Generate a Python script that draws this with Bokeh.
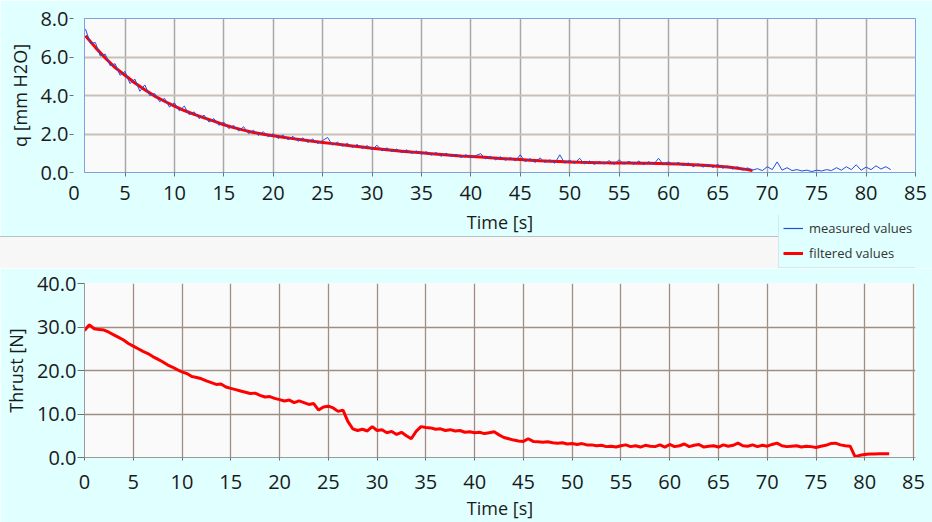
from bokeh.plotting import figure
from bokeh.layouts import column
from bokeh.models import (Range1d, NumeralTickFormatter, FixedTicker, Legend, LegendItem, Div)
from bokeh.embed import file_html
from bokeh.resources import INLINE

# ---------------- data ----------------
# dynamic pressure q [mm H2O], measured every 0.5 s starting at t = 1.0 s
q_start, q_step = 1.0, 0.5
q_measured = [
    7.45, 6.70, 6.75, 6.05, 6.15, 5.55, 5.65, 5.05, 5.25, 4.62,
    4.85, 4.22, 4.55, 4.00, 4.10, 3.68, 3.85, 3.40, 3.62, 3.20,
    3.45, 3.00, 3.15, 2.80, 2.98, 2.62, 2.80, 2.45, 2.62, 2.28,
    2.45, 2.15, 2.38, 2.02, 2.20, 1.92, 2.12, 1.85, 2.02, 1.76,
    1.95, 1.70, 1.88, 1.62, 1.80, 1.56, 1.74, 1.50, 1.66, 1.82,
    1.42, 1.58, 1.36, 1.52, 1.30, 1.46, 1.24, 1.40, 1.18, 1.42,
    1.12, 1.28, 1.08, 1.22, 1.03, 1.18, 0.99, 1.12, 0.95, 1.08,
    0.90, 1.04, 0.84, 1.00, 0.83, 0.95, 0.78, 0.92, 0.76, 0.88,
    0.98, 0.70, 0.84, 0.66, 0.82, 0.63, 0.78, 0.60, 0.92, 0.56,
    0.72, 0.52, 0.76, 0.52, 0.66, 0.48, 0.92, 0.48, 0.64, 0.46,
    0.74, 0.44, 0.60, 0.42, 0.58, 0.44, 0.62, 0.42, 0.66, 0.43,
    0.58, 0.42, 0.60, 0.40, 0.56, 0.42, 0.74, 0.40, 0.56, 0.40,
    0.52, 0.36, 0.50, 0.30, 0.46, 0.28, 0.42, 0.26, 0.42, 0.22,
    0.34, 0.18, 0.30, 0.12, 0.24, 0.12, 0.20, 0.10, 0.30, 0.15,
    0.55, 0.12, 0.25, 0.10, 0.15, 0.08, 0.12, 0.05, 0.12, 0.08,
    0.15, 0.10, 0.25, 0.12, 0.30, 0.15, 0.40, 0.12, 0.28, 0.15,
    0.35, 0.18, 0.30, 0.15,
]
q_time = [q_start + q_step * i for i in range(len(q_measured))]

q_filtered_time = list(range(1, 69)) + [68.5]
q_filtered = [
    7.10, 6.50, 5.95, 5.45, 5.05, 4.65, 4.30, 3.97, 3.70, 3.45,
    3.22, 3.02, 2.84, 2.67, 2.48, 2.33, 2.20, 2.08, 1.99, 1.91,
    1.83, 1.76, 1.69, 1.62, 1.56, 1.50, 1.44, 1.38, 1.32, 1.26,
    1.21, 1.16, 1.11, 1.06, 1.02, 0.98, 0.94, 0.90, 0.86, 0.83,
    0.80, 0.76, 0.73, 0.70, 0.67, 0.64, 0.61, 0.59, 0.57, 0.55,
    0.53, 0.52, 0.51, 0.50, 0.50, 0.49, 0.48, 0.48, 0.47, 0.46,
    0.44, 0.42, 0.39, 0.36, 0.33, 0.28, 0.22, 0.15, 0.10,
]

# thrust [N], every 0.5 s starting at t = 0 s
thrust_start, thrust_step = 0.0, 0.5
thrust = [
    29.2, 30.5, 29.6, 29.4, 29.3, 28.8, 28.2, 27.6, 27.0, 26.2,
    25.6, 25.0, 24.4, 23.9, 23.2, 22.6, 22.0, 21.3, 20.8, 20.2,
    19.7, 19.3, 18.6, 18.4, 18.1, 17.6, 17.2, 16.8, 16.9, 16.2,
    15.9, 15.6, 15.3, 15.0, 14.7, 14.8, 14.3, 13.9, 14.0, 13.6,
    13.3, 13.0, 13.2, 12.6, 13.0, 12.6, 12.2, 12.4, 10.9, 11.6,
    11.8, 11.4, 10.6, 10.9, 8.3, 6.6, 6.2, 6.5, 6.1, 7.1,
    6.2, 6.4, 5.7, 6.0, 5.3, 5.8, 5.0, 4.3, 6.0, 7.1,
    6.9, 6.8, 6.5, 6.6, 6.2, 6.4, 6.1, 6.2, 5.8, 5.9,
    5.7, 5.8, 5.5, 5.7, 5.9, 5.2, 4.6, 4.3, 4.0, 3.8,
    3.7, 4.3, 3.7, 3.6, 3.5, 3.6, 3.4, 3.3, 3.4, 3.1,
    3.2, 3.0, 3.2, 2.9, 2.9, 2.7, 2.8, 2.5, 2.6, 2.4,
    2.7, 2.9, 2.5, 2.7, 2.4, 2.8, 2.6, 2.5, 2.9, 2.4,
    3.0, 2.5, 2.7, 3.1, 2.5, 2.8, 3.0, 2.4, 2.6, 2.7,
    2.4, 2.9, 2.6, 2.8, 3.3, 2.7, 2.6, 2.9, 2.5, 2.8,
    2.6, 3.0, 3.3, 2.7, 2.5, 2.6, 2.7, 2.4, 2.6, 2.5,
    2.3, 2.6, 2.8, 3.2, 3.3, 2.9, 2.7, 2.6, 0.2, 0.5,
    0.7, 0.8, 0.8, 0.85, 0.85, 0.85,
]
thrust_time = [thrust_start + thrust_step * i for i in range(len(thrust))]

x_ticks = [0, 5, 10, 15, 20, 25, 30, 35, 40, 45, 50, 55, 60, 65, 70, 75, 80, 85]
q_ticks = [0, 2, 4, 6, 8]
thrust_ticks = [0, 10, 20, 30, 40]

# ---------------- style ----------------
CYAN = "#E0FFFF"
PLOT_BG = "#FAFAFA"
STRIP = "#F7F7F7"
FONT = "Open Sans"
TXT = "#1A1A1A"
BLUE = "#1F4FE0"
RED = "#FF0000"


def style_axes(p, xlabel, ylabel, axis_col):
    for ax in (p.xaxis[0], p.yaxis[0]):
        ax.major_label_text_font = FONT
        ax.major_label_text_font_size = "20px"
        ax.major_label_text_color = TXT
        ax.axis_label_text_font = FONT
        ax.axis_label_text_font_size = "18px"
        ax.axis_label_text_font_style = "normal"
        ax.axis_label_text_color = TXT
        ax.minor_tick_line_color = None
        ax.major_tick_line_color = "#707070"
        ax.axis_line_color = axis_col
    p.xaxis[0].axis_label = xlabel
    p.yaxis[0].axis_label = ylabel


# ---------------- top figure: q ----------------
top = figure(width=932, height=268, x_range=Range1d(0.9, 85), y_range=Range1d(0, 8),
             output_backend="svg", toolbar_location=None,
             min_border_left=83, min_border_right=14, min_border_top=18, min_border_bottom=96,
             background_fill_color=PLOT_BG, border_fill_color=CYAN,
             outline_line_color="#7F9FE0")
style_axes(top, "Time [s]", "q [mm H2O]", "#7F9FE0")
top.xaxis[0].ticker = FixedTicker(ticks=x_ticks)
top.yaxis[0].ticker = FixedTicker(ticks=q_ticks)
top.yaxis[0].formatter = NumeralTickFormatter(format="0.0")
top.xaxis[0].major_tick_in = 0
top.xaxis[0].major_tick_out = 4
top.xaxis[0].major_label_standoff = 9
top.xaxis[0].axis_label_standoff = 7
top.yaxis[0].major_tick_in = -11
top.yaxis[0].major_tick_out = 15
top.yaxis[0].major_label_standoff = 1
top.yaxis[0].axis_label_standoff = 5
top.xgrid.grid_line_color = "#A8A8A8"
top.xgrid.grid_line_width = 1.5
top.ygrid.grid_line_color = "#C8BFB6"
top.ygrid.grid_line_width = 2

r_filt = top.line(q_filtered_time, q_filtered, line_color=RED, line_width=3)
r_meas = top.line(q_time, q_measured, line_color=BLUE, line_width=1)

# ---------------- legend overlay (transparent, full width) ----------------
# its ranges lie far from the data, so the lines only serve as legend samples
leg_fig = figure(width=932, height=53, x_range=Range1d(0, 1), y_range=Range1d(-20, -19),
                 output_backend="svg", toolbar_location=None,
                 x_axis_location=None, y_axis_location=None,
                 min_border=0, min_border_left=0, min_border_right=0,
                 min_border_top=0, min_border_bottom=0,
                 background_fill_alpha=0, border_fill_alpha=0,
                 outline_line_color=None, margin=(-53, 0, 0, 0))
leg_fig.grid.visible = False
lg_meas = leg_fig.line(q_time, q_measured, line_color=BLUE, line_width=1.2)
lg_filt = leg_fig.line(q_filtered_time, q_filtered, line_color=RED, line_width=3)
legend = Legend(items=[LegendItem(label="measured values", renderers=[lg_meas]),
                       LegendItem(label="filtered values", renderers=[lg_filt])],
                location=(694, 0), orientation="vertical",
                background_fill_color=CYAN, background_fill_alpha=1,
                border_line_color="#C8D4DC", border_line_width=1,
                label_text_font=FONT, label_text_font_size="13px", label_text_color="#333333",
                glyph_width=20, glyph_height=20, label_height=20, spacing=5,
                padding=4, margin=0, label_standoff=6)
leg_fig.add_layout(legend)

# ---------------- bottom figure: thrust ----------------
bot = figure(width=932, height=254, x_range=Range1d(0, 85.2), y_range=Range1d(0, 40),
             output_backend="svg", toolbar_location=None,
             min_border_left=84, min_border_right=17, min_border_top=15, min_border_bottom=63,
             background_fill_color=PLOT_BG, border_fill_color=CYAN,
             outline_line_color=None)
style_axes(bot, "Time [s]", "Thrust [N]", "#9A9A9A")
bot.xaxis[0].ticker = FixedTicker(ticks=x_ticks)
bot.yaxis[0].ticker = FixedTicker(ticks=thrust_ticks)
bot.yaxis[0].formatter = NumeralTickFormatter(format="0.0")
bot.xaxis[0].major_tick_in = 0
bot.xaxis[0].major_tick_out = 3
bot.xaxis[0].major_label_standoff = 14
bot.xaxis[0].axis_label_standoff = 4
bot.yaxis[0].major_tick_in = 0
bot.yaxis[0].major_tick_out = 7
bot.yaxis[0].major_label_standoff = 1
bot.yaxis[0].axis_label_standoff = 6
bot.xgrid.grid_line_color = "#A08E84"
bot.xgrid.grid_line_width = 1.3
bot.ygrid.grid_line_color = "#A08E84"
bot.ygrid.grid_line_width = 1.3

bot.line(thrust_time, thrust, line_color=RED, line_width=3)

# ---------------- page decorations ----------------
strip = Div(text="", width=780, height=32, margin=(-32, 0, 0, 0),
            styles={"background-color": STRIP, "border-top": "1px solid #B8C0C0",
                    "box-sizing": "border-box"})
zero_label = Div(text="0", width=20, height=28, margin=(-89, 0, 61, 64),
                 styles={"font-family": FONT, "font-size": "20px", "line-height": "28px",
                         "text-align": "center", "color": TXT})

layout = column(top, strip, leg_fig, zero_label, bot, spacing=0)
open("out.html", "w").write(file_html(layout, INLINE))
